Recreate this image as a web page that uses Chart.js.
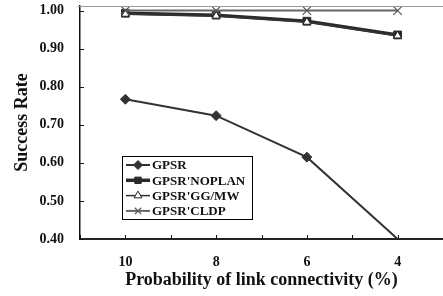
<!DOCTYPE html>
<html>
<head>
<meta charset="utf-8">
<script src="https://cdn.jsdelivr.net/npm/chart.js@4/dist/chart.umd.min.js"></script>
<style>
  html, body { margin: 0; padding: 0; background: #fff; }
  #wrap { width: 443px; height: 296px; }
</style>
</head>
<body>
<div id="wrap"><canvas id="rate-chart"></canvas></div>
<script>
// data
var linkProb = [10, 8, 6, 4];
var gpsrRate = [0.767, 0.724, 0.615, 0.400];
var noplanRate = [0.993, 0.988, 0.972, 0.936];
var ggmwRate = [0.991, 0.986, 0.970, 0.934];
var cldpRate = [1.000, 1.000, 1.000, 1.000];
var seriesNames = ['GPSR', "GPSR'NOPLAN", "GPSR'GG/MW", "GPSR'CLDP"];
var xTickValues = [3, 4, 5, 6, 7, 8, 9, 10, 11];
var xTickLabels = [4, 6, 8, 10];
var yTickValues = [0.4, 0.5, 0.6, 0.7, 0.8, 0.9, 1.0];

function pts(values) {
    return linkProb.map(function (x, i) { return { x: x, y: values[i] }; });
}

var serif = "'Liberation Serif', 'Times New Roman', serif";

// inner ticks, top frame line and the boxed legend inside the plot
var framePlugin = {
    id: 'frame',
    afterDraw: function (chart) {
        var ctx = chart.ctx;
        var area = chart.chartArea;
        var xs = chart.scales.x, ys = chart.scales.y;
        ctx.save();
        ctx.strokeStyle = '#999';
        ctx.lineWidth = 1;
        ctx.beginPath();
        ctx.moveTo(area.left - 2, area.top + 0.5);
        ctx.lineTo(area.right, area.top + 0.5);
        ctx.stroke();

        ctx.strokeStyle = '#111';
        ctx.lineWidth = 1;
        ctx.beginPath();
        xTickValues.forEach(function (v) {
            var px = Math.round(xs.getPixelForValue(v)) + 0.5;
            ctx.moveTo(px, area.bottom);
            ctx.lineTo(px, area.bottom - 4);
        });
        yTickValues.forEach(function (v) {
            var py = Math.round(ys.getPixelForValue(v)) + 0.5;
            ctx.moveTo(area.left, py);
            ctx.lineTo(area.left + 4, py);
        });
        ctx.stroke();

        // legend box
        var bx = 122, by = 156, bw = 130, bh = 63;
        ctx.fillStyle = '#fff';
        ctx.fillRect(bx, by, bw, bh);
        ctx.strokeStyle = '#000';
        ctx.lineWidth = 1;
        ctx.strokeRect(bx + 0.5, by + 0.5, bw, bh);
        ctx.font = 'bold 13px ' + serif;
        ctx.textBaseline = 'middle';
        chart.data.datasets.forEach(function (ds, i) {
            var cy = by + 9 + i * 15.3;
            ctx.strokeStyle = ds.borderColor;
            ctx.lineWidth = ds.borderWidth;
            ctx.beginPath();
            ctx.moveTo(bx + 4, cy);
            ctx.lineTo(bx + 28, cy);
            ctx.stroke();
            ctx.fillStyle = ds.pointBackgroundColor;
            ctx.strokeStyle = ds.pointBorderColor;
            ctx.lineWidth = ds.pointBorderWidth;
            Chart.helpers.drawPoint(ctx, {
                pointStyle: ds.pointStyle,
                radius: 4.5,
                rotation: 0,
                borderWidth: ds.pointBorderWidth
            }, bx + 16, cy);
            ctx.fillStyle = '#111';
            ctx.fillText(seriesNames[i], bx + 30, cy + 1);
        });
        ctx.restore();
    }
};

var rateChartNode = document.getElementById('rate-chart').getContext('2d');
var rateChart = new Chart(rateChartNode, {
    type: 'line',
    data: {
        datasets: [{
            label: seriesNames[0],
            data: pts(gpsrRate),
            borderColor: '#333',
            borderWidth: 2,
            pointStyle: 'rectRot',
            pointRadius: [5, 5, 5, 0],
            pointBackgroundColor: '#333',
            pointBorderColor: '#333',
            pointBorderWidth: 1,
            order: 0
        }, {
            label: seriesNames[1],
            data: pts(noplanRate),
            borderColor: '#2a2a2a',
            borderWidth: 3.5,
            pointStyle: 'rect',
            pointRadius: 5.5,
            pointBackgroundColor: '#2a2a2a',
            pointBorderColor: '#2a2a2a',
            pointBorderWidth: 1,
            clip: false,
            order: 3
        }, {
            label: seriesNames[2],
            data: pts(ggmwRate),
            borderColor: '#333',
            borderWidth: 1.5,
            pointStyle: 'triangle',
            pointRadius: 4.5,
            pointBackgroundColor: '#fff',
            pointBorderColor: '#222',
            pointBorderWidth: 1,
            clip: false,
            order: 2
        }, {
            label: seriesNames[3],
            data: pts(cldpRate),
            borderColor: '#666',
            borderWidth: 2,
            pointStyle: 'crossRot',
            pointRadius: 6,
            pointBackgroundColor: '#555',
            pointBorderColor: '#555',
            pointBorderWidth: 1.2,
            clip: false,
            order: 1
        }]
    },
    options: {
        responsive: true,
        maintainAspectRatio: false,
        animation: false,
        layout: { autoPadding: false, padding: { top: 6, right: 0, left: 0, bottom: 0 } },
        plugins: {
            legend: { display: false },
            title: { display: false },
            tooltip: { enabled: false }
        },
        scales: {
            x: {
                type: 'linear',
                reverse: true,
                min: 3,
                max: 11,
                afterBuildTicks: function (axis) {
                    axis.ticks = xTickValues.map(function (v) { return { value: v }; });
                },
                afterFit: function (axis) {
                    axis.height = 57;
                    axis.paddingLeft = 0;
                    axis.paddingRight = 0;
                },
                grid: { display: false, drawTicks: false },
                border: { display: true, color: '#222', width: 2 },
                ticks: {
                    padding: 15,
                    color: '#111',
                    font: { family: serif, size: 14, weight: 'bold' },
                    callback: function (v) {
                        return xTickLabels.indexOf(v) >= 0 ? String(v) : '';
                    }
                },
                title: {
                    display: true,
                    text: 'Probability of link connectivity (%)',
                    color: '#111',
                    font: { family: serif, size: 18, weight: 'bold' },
                    padding: { top: 0, bottom: 5 }
                }
            },
            y: {
                min: 0.4,
                max: 1.012,
                afterBuildTicks: function (axis) {
                    axis.ticks = yTickValues.map(function (v) { return { value: v }; });
                },
                afterFit: function (axis) {
                    axis.width = 80;
                    axis.paddingTop = 0;
                    axis.paddingBottom = 0;
                },
                grid: { display: false, drawTicks: false },
                border: { display: true, color: '#111', width: 1.5 },
                ticks: {
                    padding: 16,
                    color: '#111',
                    font: { family: serif, size: 14, weight: 'bold' },
                    callback: function (v) { return v.toFixed(2); }
                },
                title: {
                    display: true,
                    text: 'Success Rate',
                    color: '#111',
                    font: { family: serif, size: 18, weight: 'bold' },
                    padding: { top: 12, bottom: 0 }
                }
            }
        }
    },
    plugins: [framePlugin]
});
</script>
</body>
</html>
